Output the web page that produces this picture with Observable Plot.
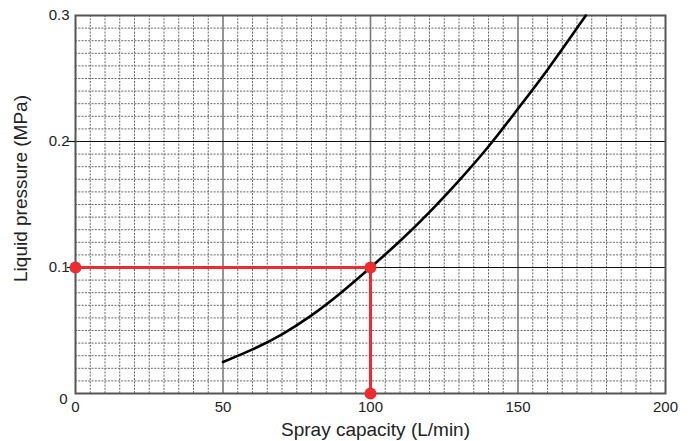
<!DOCTYPE html>
<html>
<head>
<meta charset="utf-8">
<script src="https://cdn.jsdelivr.net/npm/d3@7"></script>
<script src="https://cdn.jsdelivr.net/npm/@observablehq/plot@0.6"></script>
<style>
  html, body { margin: 0; padding: 0; background: #fff; }
  #chart { width: 691px; height: 441px; }
</style>
</head>
<body>
<div id="chart"></div>
<script>
// Curve: spray capacity (L/min) vs liquid pressure (MPa)
const capacity = [50, 60, 70, 80, 90, 100, 110, 120, 130, 140, 150, 160, 170, 173];
const pressure = [0.025, 0.035, 0.047, 0.062, 0.080, 0.100, 0.121, 0.144, 0.169, 0.196, 0.226, 0.257, 0.290, 0.300];

// Red reading path (0,0.1) -> (100,0.1) -> (100,0)
const readX = [0, 100, 100];
const readY = [0.1, 0.1, 0];

const xTicks = [0, 50, 100, 150, 200];
const yTicks = [0.1, 0.2, 0.3];
const xMajor = [50, 100, 150];
const yMajor = [0.1, 0.2];
const xMinor = d3.range(5, 200, 5).filter(v => v % 50 !== 0);
const yMinor = d3.range(1, 30).filter(v => v % 10 !== 0).map(v => v / 100);

const curve = capacity.map((c, i) => ({x: c, y: pressure[i]}));
const reading = readX.map((x, i) => ({x, y: readY[i]}));

const red = "#ee2c2f";
const chart = Plot.plot({
  width: 691,
  height: 441,
  marginLeft: 75,
  marginRight: 26,
  marginTop: 15,
  marginBottom: 48,
  style: {fontFamily: "'Liberation Sans', Arial, sans-serif", fontSize: "15px", color: "#222", background: "#fff"},
  x: {domain: [0, 200]},
  y: {domain: [0, 0.3]},
  marks: [
    Plot.ruleX(xMinor, {stroke: "#666", strokeWidth: 1, strokeDasharray: "2,1.3"}),
    Plot.ruleY(yMinor, {stroke: "#666", strokeWidth: 1, strokeDasharray: "2,1.3"}),
    Plot.ruleX(xMajor, {stroke: "#7a7a7a", strokeWidth: 1.6}),
    Plot.ruleY(yMajor, {stroke: "#111", strokeWidth: 1.2}),
    Plot.frame({stroke: "#555", strokeWidth: 2}),
    Plot.axisY(yMajor, {tickSize: 8, stroke: "#111", strokeWidth: 1.2, text: null, label: null}),
    Plot.axisY(yTicks, {tickSize: 0, tickPadding: 6, tickFormat: d3.format(".1f"), label: null}),
    Plot.axisY([0], {tickSize: 0, tickPadding: 8, dy: 6, tickFormat: d => "0", label: null}),
    Plot.axisX(xTicks, {tickSize: 0, tickPadding: 8, label: null}),
    Plot.line(curve, {x: "x", y: "y", curve: "natural", stroke: "#000", strokeWidth: 2.6}),
    Plot.line(reading, {x: "x", y: "y", stroke: red, strokeWidth: 3}),
    Plot.dot(reading, {x: "x", y: "y", r: 6, fill: red, stroke: "none"}),
    Plot.text(["Spray capacity (L/min)"], {frameAnchor: "bottom", textAnchor: "middle", lineAnchor: "middle", dx: 5, dy: 36, fontSize: 19, fill: "#222"}),
    Plot.text(["Liquid pressure (MPa)"], {frameAnchor: "left", textAnchor: "middle", lineAnchor: "middle", dx: -55, dy: -16, rotate: -90, fontSize: 19, fill: "#222"})
  ]
});
document.getElementById("chart").appendChild(chart);
</script>
</body>
</html>
